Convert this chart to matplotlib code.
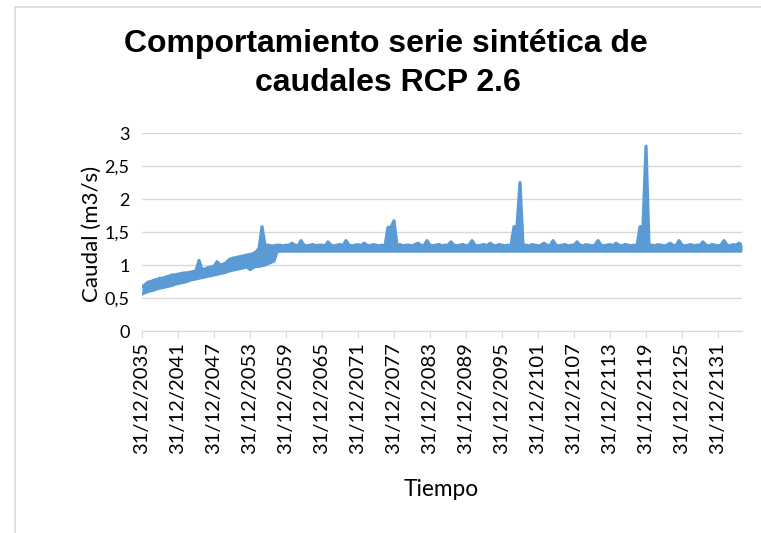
import numpy as np
import matplotlib
matplotlib.use("Agg")
import matplotlib.pyplot as plt
from matplotlib.patches import Rectangle
from matplotlib.ticker import FuncFormatter

# years elapsed since 31/12/2035, half-year steps
t_anios = np.arange(0, 100.5, 0.5)

# upper envelope of the caudal band (m3/s)
q_sup = [
    0.67, 0.70, 0.74, 0.75, 0.77, 0.78, 0.80, 0.80, 0.82, 0.83,
    0.85, 0.85, 0.86, 0.87, 0.88, 0.88, 0.89, 0.90, 0.91, 1.07,
    0.93, 0.94, 0.96, 0.97, 0.98, 1.05, 1.00, 1.01, 1.03, 1.08,
    1.10, 1.11, 1.12, 1.13, 1.14, 1.15, 1.16, 1.17, 1.20, 1.25,
    1.58, 1.30, 1.30, 1.29, 1.29, 1.30, 1.30, 1.29, 1.30, 1.30,
    1.33, 1.30, 1.29, 1.37, 1.30, 1.29, 1.30, 1.31, 1.29, 1.30,
    1.30, 1.29, 1.35, 1.30, 1.29, 1.30, 1.31, 1.29, 1.37, 1.30,
    1.29, 1.30, 1.31, 1.29, 1.33, 1.30, 1.29, 1.31, 1.30, 1.29,
    1.30, 1.29, 1.57, 1.57, 1.67, 1.30, 1.31, 1.29, 1.30, 1.30,
    1.29, 1.31, 1.33, 1.30, 1.29, 1.37, 1.30, 1.29, 1.30, 1.31,
    1.29, 1.30, 1.30, 1.35, 1.30, 1.29, 1.30, 1.31, 1.29, 1.30,
    1.37, 1.30, 1.29, 1.30, 1.31, 1.29, 1.33, 1.30, 1.29, 1.31,
    1.30, 1.29, 1.30, 1.29, 1.58, 1.58, 2.25, 1.30, 1.30, 1.29,
    1.31, 1.30, 1.29, 1.30, 1.33, 1.30, 1.29, 1.37, 1.30, 1.29,
    1.30, 1.31, 1.29, 1.30, 1.30, 1.35, 1.30, 1.29, 1.31, 1.30,
    1.29, 1.30, 1.37, 1.30, 1.29, 1.30, 1.31, 1.29, 1.33, 1.30,
    1.29, 1.31, 1.30, 1.29, 1.30, 1.29, 1.58, 1.58, 2.80, 1.30,
    1.30, 1.29, 1.31, 1.30, 1.29, 1.30, 1.33, 1.30, 1.29, 1.37,
    1.30, 1.29, 1.30, 1.31, 1.29, 1.30, 1.30, 1.35, 1.30, 1.29,
    1.31, 1.30, 1.29, 1.30, 1.37, 1.30, 1.29, 1.31, 1.30, 1.33,
    1.30,
]

# lower envelope of the caudal band (m3/s)
q_inf = [
    0.56, 0.58, 0.60, 0.61, 0.62, 0.64, 0.65, 0.66, 0.67, 0.68,
    0.69, 0.71, 0.72, 0.73, 0.74, 0.75, 0.77, 0.78, 0.79, 0.80,
    0.81, 0.82, 0.83, 0.84, 0.85, 0.86, 0.87, 0.88, 0.89, 0.91,
    0.92, 0.93, 0.94, 0.95, 0.96, 0.97, 0.93, 0.96, 0.98, 0.98,
    0.99, 1.00, 1.02, 1.04, 1.06, 1.20, 1.21, 1.21, 1.21, 1.21,
    1.21, 1.21, 1.21, 1.21, 1.21, 1.21, 1.21, 1.21, 1.21, 1.21,
    1.21, 1.21, 1.21, 1.21, 1.21, 1.21, 1.21, 1.21, 1.21, 1.21,
    1.21, 1.21, 1.21, 1.21, 1.21, 1.21, 1.21, 1.21, 1.21, 1.21,
    1.21, 1.21, 1.21, 1.21, 1.21, 1.21, 1.21, 1.21, 1.21, 1.21,
    1.21, 1.21, 1.21, 1.21, 1.21, 1.21, 1.21, 1.21, 1.21, 1.21,
    1.21, 1.21, 1.21, 1.21, 1.21, 1.21, 1.21, 1.21, 1.21, 1.21,
    1.21, 1.21, 1.21, 1.21, 1.21, 1.21, 1.21, 1.21, 1.21, 1.21,
    1.21, 1.21, 1.21, 1.21, 1.21, 1.21, 1.21, 1.21, 1.21, 1.21,
    1.21, 1.21, 1.21, 1.21, 1.21, 1.21, 1.21, 1.21, 1.21, 1.21,
    1.21, 1.21, 1.21, 1.21, 1.21, 1.21, 1.21, 1.21, 1.21, 1.21,
    1.21, 1.21, 1.21, 1.21, 1.21, 1.21, 1.21, 1.21, 1.21, 1.21,
    1.21, 1.21, 1.21, 1.21, 1.21, 1.21, 1.21, 1.21, 1.21, 1.21,
    1.21, 1.21, 1.21, 1.21, 1.21, 1.21, 1.21, 1.21, 1.21, 1.21,
    1.21, 1.21, 1.21, 1.21, 1.21, 1.21, 1.21, 1.21, 1.21, 1.21,
    1.21, 1.21, 1.21, 1.21, 1.21, 1.21, 1.21, 1.21, 1.21, 1.21,
    1.21,
]

tick_pos = list(range(0, 97, 6))
tick_labels = [f"31/12/{2035 + p}" for p in tick_pos]
y_ticks = [0, 0.5, 1, 1.5, 2, 2.5, 3]

azul = "#5B9BD5"
gris = "#D9D9D9"

fig = plt.figure(figsize=(7.61, 5.33), dpi=100)
ax = fig.add_axes([142 / 761, 202 / 533, 600 / 761, 198 / 533])

ax.fill_between(t_anios, q_inf, q_sup, color=azul, lw=0, zorder=3)
for serie in (q_sup, q_inf):
    ax.plot(t_anios, serie, color=azul, lw=2.3,
            solid_joinstyle="round", solid_capstyle="round", zorder=3)

ax.set_xlim(0, 100)
ax.set_ylim(0, 3)
ax.set_yticks(y_ticks)
ax.yaxis.set_major_formatter(FuncFormatter(lambda v, _: f"{v:g}".replace(".", ",")))
ax.set_xticks(tick_pos)
ax.set_xticklabels(tick_labels, rotation=90)

ax.grid(axis="y", color=gris, lw=1)
ax.set_axisbelow(True)
for s in ["top", "right", "left"]:
    ax.spines[s].set_visible(False)
ax.spines["bottom"].set_color(gris)
ax.tick_params(axis="y", length=0, pad=9, labelsize=13)
ax.tick_params(axis="x", length=5, color=gris, pad=3, labelsize=14.5)
for lab in ax.get_xticklabels() + ax.get_yticklabels():
    lab.set_fontfamily("Lato")

fig.text(92 / 761, 1 - 234 / 533, "Caudal (m3/s)", rotation=90,
         ha="center", va="center", fontsize=16, family="Lato")
fig.text(441 / 761, 1 - 490 / 533, "Tiempo",
         ha="center", va="center", fontsize=16.3, family="Lato")

fig.text(0.507, 1 - 52 / 533, "Comportamiento serie sintética de",
         ha="center", va="baseline", fontsize=23, fontweight="bold",
         family="Liberation Sans")
fig.text(0.51, 1 - 91 / 533, "caudales RCP 2.6",
         ha="center", va="baseline", fontsize=23, fontweight="bold",
         family="Liberation Sans")

# chart area border (partially cropped in the original)
fig.patches.append(Rectangle((15 / 761, -0.1), 1.2, (533 - 7) / 533 + 0.1,
                             transform=fig.transFigure, fill=False,
                             edgecolor=gris, lw=1.2))

fig.savefig("out.png", dpi=100)
